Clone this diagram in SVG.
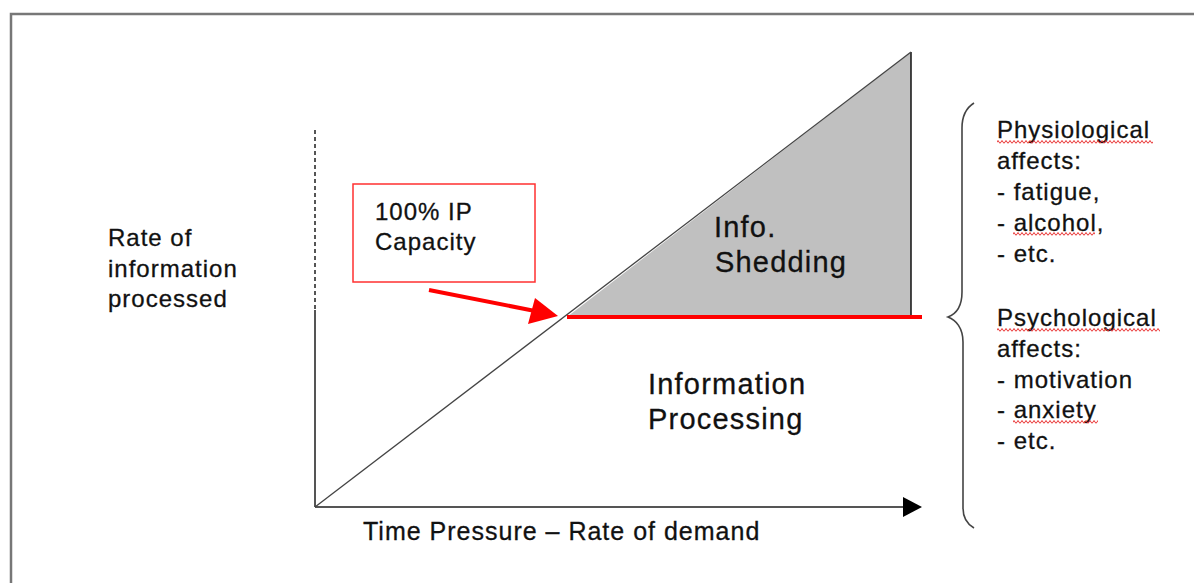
<svg xmlns="http://www.w3.org/2000/svg" width="1194" height="583" viewBox="0 0 1194 583">
  <style>
    .lbl { font-family: "Liberation Sans", Arial, sans-serif; font-size: 24px; letter-spacing: 1px; fill: #111; stroke: #111; stroke-width: 0.3px; }
    .big { font-family: "Liberation Sans", Arial, sans-serif; font-size: 29px; letter-spacing: 1.2px; fill: #111; stroke: #111; stroke-width: 0.3px; }
    .axis { stroke: #555; stroke-width: 2; fill: none; }
    .red { stroke: #ff0000; fill: none; }
  </style>
  <defs>
    <!-- spell-check style wavy underline -->
    <pattern id="squiggle" x="0" y="0" width="4" height="4" patternUnits="userSpaceOnUse">
      <path d="M0,3.5 L2,0.5 L4,3.5" stroke="#e83030" stroke-width="1" fill="none"/>
    </pattern>
  </defs>

  <rect width="1194" height="583" fill="#fff"/>

  <!-- outer frame -->
  <path d="M11,583 V14 H1194" stroke="#777" stroke-width="2.5" fill="none"/>

  <!-- shaded shedding region -->
  <g id="shedding-region">
    <polygon points="567,317 911,52 911,317" fill="#c0c0c0"/>
    <line x1="911" y1="52" x2="911" y2="317" stroke="#111" stroke-width="1.5"/>
    <text class="big" x="714" y="237">Info.</text>
    <text class="big" x="715" y="272">Shedding</text>
  </g>

  <g id="connectors">
    <!-- y axis: dashed above the capacity level, solid below -->
    <line class="axis" x1="315" y1="130" x2="315" y2="310" stroke-dasharray="4,3"/>
    <line class="axis" x1="315" y1="310" x2="315" y2="507"/>
    <!-- x axis -->
    <path d="M315,507 H903" stroke="#555" stroke-width="2"/>
    <polygon points="903,497 922,507 903,517" fill="#000"/>
    <!-- demand line -->
    <line x1="315" y1="507" x2="911" y2="52" stroke="#444" stroke-width="1.3"/>
    <!-- capacity limit -->
    <line class="red" x1="567" y1="317" x2="922" y2="317" stroke-width="4"/>
    <!-- pointer from the label box -->
    <line class="red" x1="429" y1="290" x2="535" y2="311" stroke-width="4"/>
    <polygon points="558,316 535,298 528,324" fill="#ff0000"/>
  </g>

  <g id="capacity-label">
    <rect x="353" y="184" width="182" height="98" fill="#fff" stroke="#ff3030" stroke-width="1.5"/>
    <text class="lbl" x="375" y="220">100% IP</text>
    <text class="lbl" x="375" y="250">Capacity</text>
  </g>

  <g id="y-label">
    <text class="lbl" x="108" y="246">Rate of</text>
    <text class="lbl" x="108" y="277">information</text>
    <text class="lbl" x="108" y="307">processed</text>
  </g>

  <g id="processing-label">
    <text class="big" x="648" y="394">Information</text>
    <text class="big" x="648" y="429">Processing</text>
  </g>

  <g id="x-label">
    <text class="lbl" x="363" y="540" style="font-size:25px">Time Pressure – Rate of demand</text>
  </g>

  <g id="affects">
    <path d="M974,103 C966,108 962,116 962,128 V292 C962,306 956,314 948,317 C956,320 963,328 963,342 V508 C963,518 967,524 974,528" stroke="#444" stroke-width="1.6" fill="none"/>
    <text class="lbl" x="997" y="138">Physiological</text>
    <text class="lbl" x="997" y="169">affects:</text>
    <text class="lbl" x="997" y="200">- fatigue,</text>
    <text class="lbl" x="997" y="231">- alcohol,</text>
    <text class="lbl" x="997" y="262">- etc.</text>
    <text class="lbl" x="997" y="326">Psychological</text>
    <text class="lbl" x="997" y="357">affects:</text>
    <text class="lbl" x="997" y="388">- motivation</text>
    <text class="lbl" x="997" y="418">- anxiety</text>
    <text class="lbl" x="997" y="449">- etc.</text>
    <rect x="997" y="140" width="156" height="4" fill="url(#squiggle)"/>
    <rect x="1013" y="232" width="82" height="4" fill="url(#squiggle)"/>
    <rect x="997" y="328" width="163" height="4" fill="url(#squiggle)"/>
    <rect x="1013" y="420" width="85" height="4" fill="url(#squiggle)"/>
  </g>
</svg>
